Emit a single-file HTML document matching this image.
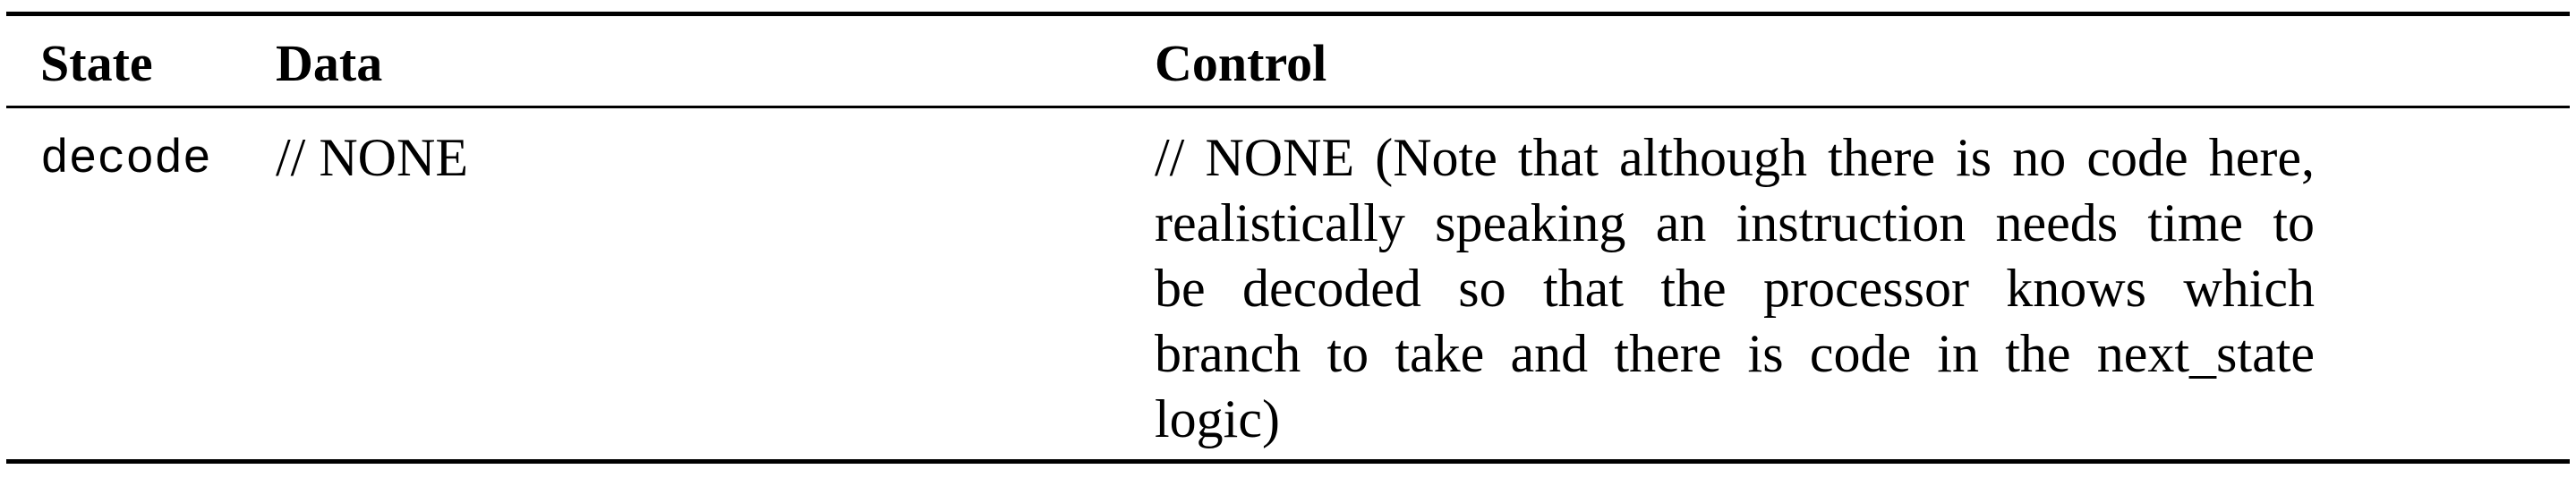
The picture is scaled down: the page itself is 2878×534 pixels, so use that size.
<!DOCTYPE html>
<html><head><meta charset="utf-8"><style>
html,body{margin:0;padding:0;background:#fff;}
body{width:2878px;height:534px;position:relative;overflow:hidden;font-family:"Liberation Serif",serif;color:#000;}
.rule{position:absolute;left:7px;width:2864px;background:#000;}
.h{position:absolute;font-weight:bold;font-size:58px;line-height:1;top:42px;}
.t{position:absolute;font-size:60px;line-height:1;}
.mono{font-family:"Liberation Mono",monospace;font-size:53px;}
.ctl{position:absolute;left:1290px;top:146px;width:1296px;font-size:60px;}
.ln{height:73px;line-height:60px;text-align:justify;text-align-last:justify;}
.ln.last{text-align-last:left;}
</style></head><body>
<div class="rule" style="top:13px;height:5px"></div>
<div class="h" style="left:45px">State</div>
<div class="h" style="left:308px">Data</div>
<div class="h" style="left:1290px">Control</div>
<div class="rule" style="top:118px;height:3px"></div>
<div class="t mono" style="left:45px;top:152px">decode</div>
<div class="t" style="left:308px;top:146px">// NONE</div>
<div class="ctl">
<div class="ln">// NONE (Note that although there is no code here,</div>
<div class="ln">realistically speaking an instruction needs time to</div>
<div class="ln">be decoded so that the processor knows which</div>
<div class="ln">branch to take and there is code in the next_state</div>
<div class="ln last">logic)</div>
</div>
<div class="rule" style="top:513px;height:5px"></div>
</body></html>
